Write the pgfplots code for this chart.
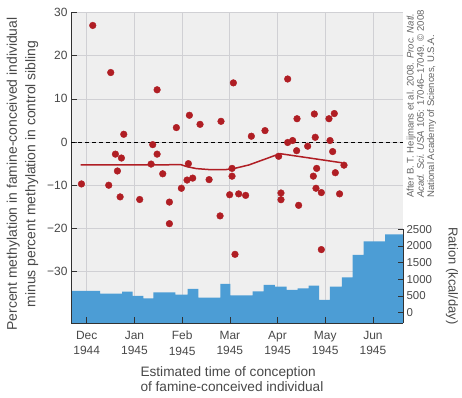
\documentclass[border=0pt]{standalone}
\usepackage{fontspec}
\setmainfont{Liberation Sans}
\usepackage{pgfplots}
\usepackage{pgfplotstable}
\pgfplotsset{compat=1.18}
\definecolor{txt}{RGB}{72,72,72}
\definecolor{bgc}{RGB}{239,239,239}
\definecolor{gridc}{RGB}{208,208,212}
\definecolor{barc}{RGB}{76,157,213}
\definecolor{dotc}{RGB}{176,30,36}
\definecolor{axc}{RGB}{50,50,50}

% ration (kcal/day), step starts in months after Dec 1944
\pgfplotstableread{
x r
-0.33 651
0.279 570
0.740 630
0.964 501
1.187 432
1.397 612
1.858 540
2.116 711
2.339 450
2.800 861
3.010 522
3.478 642
3.708 831
3.946 780
4.190 681
4.420 732
4.651 810
4.874 381
5.098 780
5.349 1062
5.573 1731
5.803 2142
6.257 2352
6.63 2352
}\ration

% methylation difference
\pgfplotstableread{
x y
-0.111 -9.7
0.126 27.0
0.461 -10.0
0.503 16.1
0.601 -2.8
0.643 -6.7
0.700 -12.7
0.727 -3.7
0.776 1.8
1.110 -13.3
1.349 -5.1
1.383 -0.6
1.475 12.1
1.475 -2.8
1.593 -7.35
1.733 -13.9
1.733 -18.9
1.879 3.35
1.984 -10.7
2.103 -8.8
2.131 -5.0
2.152 6.2
2.221 -8.35
2.375 4.1
2.565 -8.7
2.795 -17.1
2.815 4.8
2.996 -12.2
3.046 -6.1
3.046 -7.9
3.074 13.7
3.108 -26.0
3.185 -12.0
3.331 -12.35
3.451 1.35
3.737 2.65
4.023 -3.3
4.072 -11.8
4.072 -13.35
4.212 14.6
4.212 -0.1
4.316 0.35
4.400 -2.0
4.408 5.4
4.442 -14.65
4.631 -0.96
4.750 -7.9
4.771 6.5
4.790 1.1
4.806 -10.7
4.820 -6.1
4.918 -11.7
4.918 -24.9
5.078 5.4
5.100 0.35
5.155 -2.2
5.190 6.6
5.211 -7.1
5.300 -12.0
5.393 -5.35
}\meth

\begin{document}
\begin{tikzpicture}
\pgfplotsset{
  base/.style={width=332bp,height=310.5bp,scale only axis,at={(0,0)},anchor=south west,
    xmin=-0.33,xmax=6.63,xtick={0,1,2,3,4,5,6},
    tick style={axc,line width=0.6bp},
  }
}
% background and grid
\begin{axis}[base, ymin=-41.9, ymax=30, ytick={-30,-20,-10,0,10,20,30},
  axis background/.style={fill=bgc}, grid=major, grid style={gridc,line width=0.7bp},
  axis line style={draw=none}, xticklabels={}, yticklabels={}, major tick length=0pt]
\end{axis}
% ration bars
\begin{axis}[base, ymin=-310, ymax=9004, hide axis]
\addplot[fill=barc, draw=none, const plot] table[x=x,y=r]{\ration}
  -- (axis cs:6.63,-310) -- (axis cs:-0.33,-310) -- cycle;
\end{axis}
% right ration axis
\begin{axis}[base, ymin=-310, ymax=9004,
  axis x line=none, axis y line*=right,
  tick align=inside, major tick length=5.5bp,
  y axis line style={-,axc,line width=0.8bp,shorten >=216.5bp},
  ytick={0,500,1000,1500,2000,2500}, yticklabels={0,500,1000,1500,2000,2500},
  yticklabel style={font=\fontsize{11.5}{13}\selectfont,text=txt},
]
\end{axis}
% methylation scatter, left and bottom axes
\begin{axis}[base, ymin=-41.9, ymax=30,
  axis x line*=bottom, axis y line*=left,
  tick align=inside, major tick length=6bp,
  axis line style={-,axc,line width=0.8bp},
  ytick={-30,-20,-10,0,10,20,30}, yticklabels={−30,−20,−10,0,10,20,30},
  yticklabel style={font=\fontsize{12}{14}\selectfont,text=txt},
  xticklabels={Dec\\1944,Jan\\1945,Feb\\1945,Mar\\1945,Apr\\1945,May\\1945,Jun\\1945},
  xticklabel style={align=center,font=\fontsize{12}{15.5}\selectfont,text=txt,yshift=-4.5bp},
]
\addplot[black, line width=0.8bp, dash pattern=on 4bp off 3bp] coordinates {(-0.33,0) (6.63,0)};
\addplot[dotc, line width=1.5bp] coordinates {
(-0.13,-5.3) (1.98,-5.25) (2.1,-5.7) (2.3,-6.15) (2.6,-6.4) (2.9,-6.4) (3.1,-6.1)
(3.4,-5.3) (3.6,-4.5) (3.8,-3.7) (3.97,-3.0) (4.06,-2.7) (5.35,-4.8)};
\addplot[only marks, mark=*, mark size=3.35bp, dotc, mark options={draw=dotc,fill=dotc}] table[x=x,y=y]{\meth};
\end{axis}
% labels
\node[rotate=90, align=center, font=\fontsize{14}{18.5}\selectfont, text=txt] at (-48.5bp,149bp)
  {Percent methylation in famine-conceived individual\\minus percent methylation in control sibling};
\node[rotate=-90, font=\fontsize{13}{15}\selectfont, text=txt] at (381bp,47bp) {Ration (kcal/day)};
\node[anchor=west, align=left, font=\fontsize{13.7}{15}\selectfont, text=txt] at (66bp,-56bp)
  {Estimated time of conception\\of famine-conceived individual};
\node[rotate=90, anchor=north west, align=left, font=\fontsize{9.6}{10.3}\selectfont, text=txt!85, inner sep=0pt] at (335.5bp,125bp)
  {After B. T. Heijmans et al. 2008. \textit{Proc. Natl.}\\\textit{Acad. Sci. USA} 105: 17046–17049. © 2008\\National Academy of Sciences, U.S.A.};
\pgfresetboundingbox
\path[use as bounding box] (-71bp,-75bp) rectangle (391bp,323bp);
\end{tikzpicture}
\end{document}
